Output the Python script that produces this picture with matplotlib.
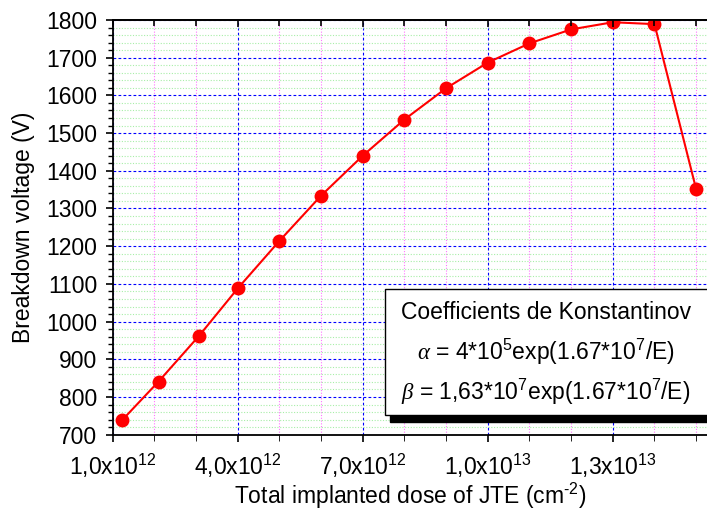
import numpy as np
import matplotlib
matplotlib.use("Agg")
import matplotlib.pyplot as plt
from matplotlib.patches import Rectangle
from matplotlib.ticker import FixedLocator, FixedFormatter, MultipleLocator

# données
dose = np.array([1.23, 2.1, 3.07, 4.0, 5.0, 6.0, 7.0, 8.0, 9.0, 10.0,
                 11.0, 12.0, 13.0, 14.0, 15.0]) * 1e12
voltage = [739, 841, 962, 1088, 1214, 1334, 1440, 1536, 1619, 1687,
           1738, 1775, 1794, 1789, 1351]

x_tick_vals = [1e12, 4e12, 7e12, 1e13, 1.3e13]
x_tick_labels = [r"1,0x10$^{\mathrm{12}}$", r"4,0x10$^{\mathrm{12}}$",
                 r"7,0x10$^{\mathrm{12}}$", r"1,0x10$^{\mathrm{13}}$",
                 r"1,3x10$^{\mathrm{13}}$"]
y_tick_vals = list(range(700, 1900, 100))

legend_lines = [
    "Coefficients de Konstantinov",
    r"$\mathit{\alpha}$ = 4*10$^{\mathrm{5}}$exp(1.67*10$^{\mathrm{7}}$/E)",
    r"$\mathit{\beta}$ = 1,63*10$^{\mathrm{7}}$exp(1.67*10$^{\mathrm{7}}$/E)",
]

plt.rcParams["font.family"] = ["Liberation Sans", "DejaVu Sans"]
plt.rcParams["mathtext.fontset"] = "custom"
plt.rcParams["mathtext.rm"] = "Liberation Sans"
plt.rcParams["mathtext.it"] = "Liberation Serif:italic"
plt.rcParams["mathtext.default"] = "rm"

fs = 16.5

fig = plt.figure(figsize=(7.07, 5.11), dpi=100)
ax = fig.add_axes([0.1594, 0.1493, 0.8406, 0.8116])

ax.set_xlim(1e12, 15.26e12)
ax.set_ylim(700, 1800)

# grille
ax.xaxis.set_major_locator(FixedLocator(x_tick_vals))
ax.xaxis.set_major_formatter(FixedFormatter(x_tick_labels))
ax.xaxis.set_minor_locator(MultipleLocator(1e12))
ax.yaxis.set_major_locator(FixedLocator(y_tick_vals))
ax.yaxis.set_minor_locator(MultipleLocator(20))

ax.grid(True, which="minor", axis="x", color="#ff77ff", linestyle=(0, (1, 1.5)), linewidth=0.8)
ax.grid(True, which="minor", axis="y", color="#a8eea8", linestyle=(0, (1, 1.5)), linewidth=0.8)
ax.grid(True, which="major", axis="both", color="#0000ff", linestyle=(0, (2.5, 2)), linewidth=0.8)
ax.set_axisbelow(True)

ax.plot(dose, voltage, color="red", linewidth=1.5, marker="o", markersize=10,
        markeredgewidth=0, zorder=3)

ax.spines["right"].set_visible(False)
for s in ["left", "bottom", "top"]:
    ax.spines[s].set_linewidth(1.3)

ax.tick_params(axis="both", which="major", labelsize=fs, width=1.2)
ax.tick_params(axis="x", which="both", top=False, direction="out")
ax.tick_params(axis="x", which="major", length=5, pad=7)
ax.tick_params(axis="x", which="minor", length=4)
ax.tick_params(axis="y", which="major", length=5, pad=6)
ax.tick_params(axis="y", which="minor", length=3.5, width=1.0)

# ticks du haut vers l'intérieur
top = ax.twiny()
top.set_xlim(ax.get_xlim())
top.xaxis.set_major_locator(FixedLocator(x_tick_vals))
top.xaxis.set_minor_locator(MultipleLocator(1e12))
top.tick_params(axis="x", which="both", direction="in", labeltop=False, width=1.2)
top.tick_params(axis="x", which="major", length=5)
top.tick_params(axis="x", which="minor", length=4)
for s in ["right", "left", "bottom"]:
    top.spines[s].set_visible(False)
top.spines["top"].set_linewidth(1.3)

ax.set_ylabel("Breakdown voltage (V)", fontsize=fs)
ax.yaxis.set_label_coords(-0.13, 0.5)
ax.set_xlabel(r"Total implanted dose of JTE (cm$^{\text{-2}}$)", fontsize=fs)
ax.xaxis.set_label_coords(0.5, -0.112)

# cadre des coefficients avec ombre
shadow = Rectangle((0.5516, 0.1748), 0.6, 0.2466, transform=fig.transFigure,
                   facecolor="black", edgecolor="black", zorder=5)
box = Rectangle((0.5446, 0.1879), 0.6, 0.2466, transform=fig.transFigure,
                facecolor="white", edgecolor="black", linewidth=1.0, zorder=6)
fig.patches.extend([shadow, box])
for txt, yy in zip(legend_lines, [0.3875, 0.3112, 0.2329]):
    fig.text(0.7723, yy, txt, fontsize=fs, ha="center", va="center", zorder=7)

fig.savefig("out.png", dpi=100)
